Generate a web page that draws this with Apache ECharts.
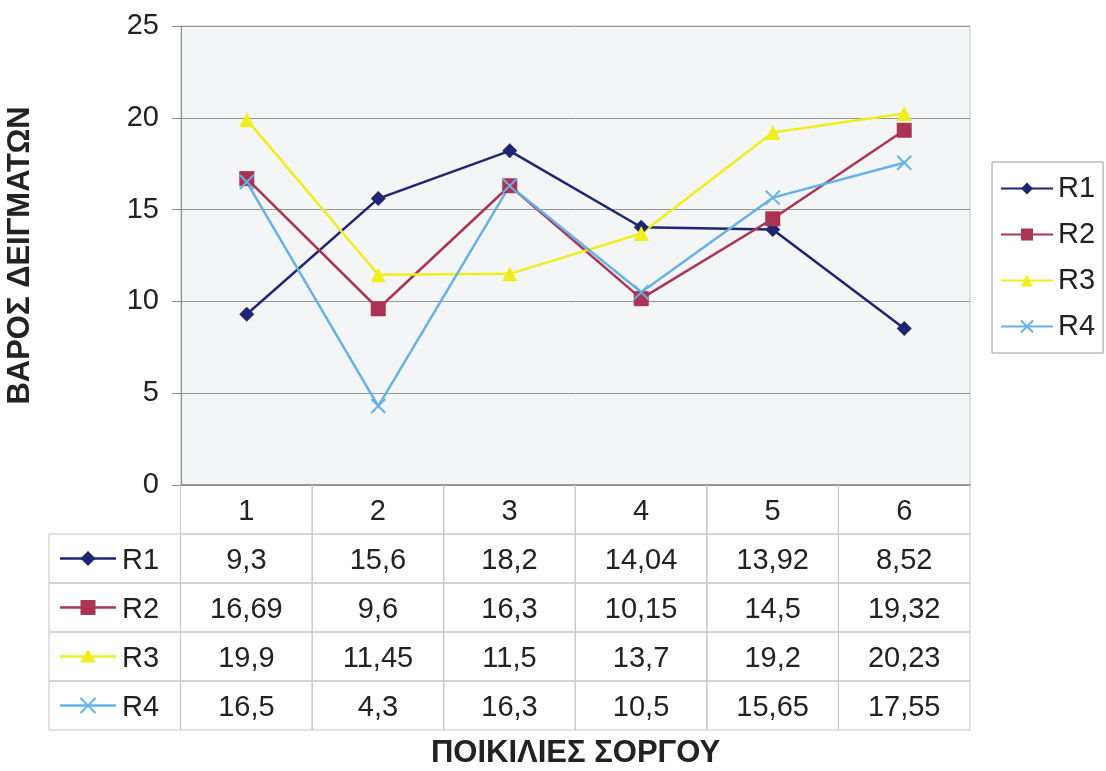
<!DOCTYPE html>
<html><head><meta charset="utf-8">
<script src="https://cdn.jsdelivr.net/npm/echarts@6/dist/echarts.min.js"></script>
<style>html,body{margin:0;padding:0;background:#fff}#c{width:1106px;height:771px}</style>
</head><body><div id="c"></div>
<script>
const categories = ['1','2','3','4','5','6'];
const seriesNames = ['R1','R2','R3','R4'];
const r1 = [9.3, 15.6, 18.2, 14.04, 13.92, 8.52];
const r2 = [16.69, 9.6, 16.3, 10.15, 14.5, 19.32];
const r3 = [19.9, 11.45, 11.5, 13.7, 19.2, 20.23];
const r4 = [16.5, 4.3, 16.3, 10.5, 15.65, 17.55];
const yMin = 0, yMax = 25, yStep = 5;
const yTitle = 'ΒΑΡΟΣ ΔΕΙΓΜΑΤΩΝ';
const xTitle = 'ΠΟΙΚΙΛΙΕΣ ΣΟΡΓΟΥ';

const allValues = [r1, r2, r3, r4];
const colors = ['#1f2570', '#ab3452', '#f2ee1e', '#66b1e8'];
const xPath = 'path://M0,0L10,10M10,0L0,10';
const symbols = ['diamond', 'rect', 'triangle', xPath];
const FONT = '"Liberation Sans", Arial, sans-serif';
const FS = 29;

// table cells
const cells = [];
categories.forEach((c, i) => cells.push({ value: [i + 1, 0], text: c, kind: 'hdr' }));
seriesNames.forEach((n, s) => {
  cells.push({ value: [0, s + 1], text: n, kind: 'label', s: s });
  allValues[s].forEach((v, i) => cells.push({ value: [i + 1, s + 1], text: String(v).replace('.', ','), kind: 'val' }));
});

function drawSymbol(s, cx, cy, col) {
  const r = 7.5;
  if (s === 0) return { type: 'polygon', shape: { points: [[cx, cy - r], [cx + r, cy], [cx, cy + r], [cx - r, cy]] }, style: { fill: col } };
  if (s === 1) return { type: 'rect', shape: { x: cx - r, y: cy - r, width: 2 * r, height: 2 * r }, style: { fill: col } };
  if (s === 2) return { type: 'polygon', shape: { points: [[cx, cy - r], [cx + r, cy + r * 0.8], [cx - r, cy + r * 0.8]] }, style: { fill: col } };
  return { type: 'group', children: [
    { type: 'line', shape: { x1: cx - r, y1: cy - r, x2: cx + r, y2: cy + r }, style: { stroke: col, lineWidth: 2 } },
    { type: 'line', shape: { x1: cx + r, y1: cy - r, x2: cx - r, y2: cy + r }, style: { stroke: col, lineWidth: 2 } }
  ] };
}

const chart = echarts.init(document.getElementById('c'));
const lineSeries = seriesNames.map((n, s) => ({
  name: n, type: 'line', xAxisIndex: 0, yAxisIndex: 0,
  data: allValues[s], symbol: symbols[s], symbolSize: s === 3 ? 14 : 15,
  lineStyle: { color: colors[s], width: 2.5 },
  itemStyle: { color: colors[s], borderColor: colors[s], borderWidth: s === 3 ? 2 : 0 },
  emphasis: { disabled: true }, z: 3
}));

chart.setOption({
  animation: false,
  backgroundColor: '#ffffff',
  textStyle: { fontFamily: FONT },
  grid: [
    { left: 181, right: 136, top: 26, bottom: 286, show: true, backgroundColor: '#f3f5f7', borderColor: '#c4c4c4', borderWidth: 1, outerBoundsMode: 'none', containLabel: false },
    { left: 49, right: 136, top: 485, bottom: 41, outerBoundsMode: 'none', containLabel: false }
  ],
  legend: {
    data: seriesNames, orient: 'vertical', left: 992, top: 162,
    borderColor: '#9a9a9a', borderWidth: 1, backgroundColor: '#fff',
    padding: [12, 8, 12, 8], itemWidth: 52, itemHeight: 15, itemGap: 17,
    textStyle: { fontSize: FS, color: '#222', fontFamily: FONT }
  },
  xAxis: [
    { type: 'category', gridIndex: 0, data: categories, boundaryGap: true,
      axisLine: { show: true, lineStyle: { color: '#4a4a4a', width: 1.5 } },
      axisTick: { show: false }, axisLabel: { show: false }, splitLine: { show: false },
      name: xTitle, nameLocation: 'middle', nameGap: 253,
      nameTextStyle: { fontSize: 31, fontWeight: 'bold', color: '#222', fontFamily: FONT } },
    { type: 'category', gridIndex: 1, data: [''].concat(categories), show: false }
  ],
  yAxis: [
    { type: 'value', gridIndex: 0, min: yMin, max: yMax, interval: yStep,
      axisLine: { show: true, lineStyle: { color: '#8a8a8a' } },
      axisTick: { show: true, length: 9, lineStyle: { color: '#8a8a8a' } },
      axisLabel: { fontSize: FS, color: '#222', margin: 22, fontFamily: FONT },
      splitLine: { lineStyle: { color: '#959595', width: 1 } },
      name: yTitle, nameLocation: 'middle', nameGap: 145, nameRotate: 90,
      nameTextStyle: { fontSize: 31, fontWeight: 'bold', color: '#222', fontFamily: FONT } },
    { type: 'category', gridIndex: 1, data: ['hdr'].concat(seriesNames), inverse: true, show: false }
  ],
  series: lineSeries.concat([{
    type: 'custom', xAxisIndex: 1, yAxisIndex: 1, silent: true,
    data: cells,
    renderItem: function (params, api) {
      const cell = cells[params.dataIndex];
      const p = api.coord([api.value(0), api.value(1)]);
      const sz = api.size([1, 1]);
      const x0 = p[0] - sz[0] / 2, y0 = p[1] - sz[1] / 2;
      const children = [{ type: 'rect', shape: { x: x0, y: y0, width: sz[0], height: sz[1] },
        style: { fill: null, stroke: '#c6c6c6', lineWidth: 1 } }];
      if (cell.kind === 'label') {
        const col = colors[cell.s];
        children.push({ type: 'line', shape: { x1: x0 + 11, y1: p[1], x2: x0 + 67, y2: p[1] }, style: { stroke: col, lineWidth: 2.5 } });
        children.push(drawSymbol(cell.s, x0 + 39, p[1], col));
        children.push({ type: 'text', style: { text: cell.text, x: x0 + 73, y: p[1] + 2, align: 'left', verticalAlign: 'middle', font: FS + 'px ' + FONT, fill: '#222' } });
      } else {
        children.push({ type: 'text', style: { text: cell.text, x: p[0], y: p[1] + 2, align: 'center', verticalAlign: 'middle', font: FS + 'px ' + FONT, fill: '#222' } });
      }
      return { type: 'group', children: children };
    }
  }])
});
</script></body></html>
